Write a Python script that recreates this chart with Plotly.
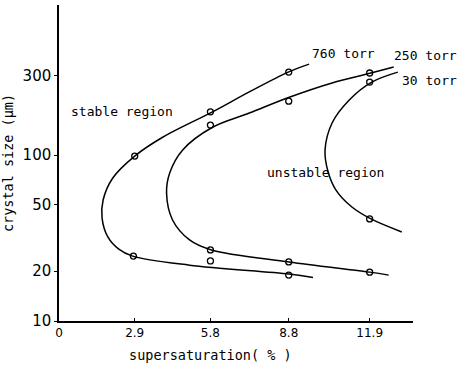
import math
import plotly.graph_objects as go

# Smooth boundary curves (supersaturation %, crystal size um), traced around each nose
curve_760_x = [9.58, 8.78, 7.29, 5.88, 3.97, 2.90, 2.06, 1.69, 1.65, 1.87, 2.29, 2.82, 5.0, 8.82, 9.73]
curve_760_y = [353, 316, 240, 182, 128, 98.6, 72.7, 53.6, 41.7, 32.1, 27.1, 24.6, 21.7, 19.2, 18.3]

curve_250_x = [12.82, 11.95, 10.46, 8.82, 7.29, 5.88, 4.73, 4.24, 4.12, 4.35, 5.0, 5.84, 8.82, 11.9, 12.63]
curve_250_y = [339, 312, 272, 223, 179, 147, 107, 78, 59, 40.6, 30.8, 26.8, 22.7, 19.7, 18.9]

curve_30_x = [12.98, 11.98, 11.11, 10.46, 10.19, 10.31, 10.61, 11.22, 11.95, 13.13]
curve_30_y = [316, 275, 214, 156, 107, 79, 61.5, 48.6, 41.2, 34.4]

# Measured points
pts_760_x = [2.9, 5.8, 8.8, 2.85, 5.8, 8.8]
pts_760_y = [98.6, 182, 316, 24.6, 23.0, 18.9]

pts_250_x = [5.8, 8.8, 11.9, 5.8, 8.8, 11.9]
pts_250_y = [151.6, 211, 312, 26.8, 22.7, 19.7]

pts_30_x = [11.9, 11.9]
pts_30_y = [275, 41.2]

x_ticks = [0, 2.9, 5.8, 8.8, 11.9]
x_tick_text = ["0", "2.9", "5.8", "8.8", "11.9"]
y_ticks = [10, 20, 50, 100, 300]
y_tick_text = ["10", "20", "50", "100", "300"]

SANS = "DejaVu Sans"
MONO = "DejaVu Sans Mono"

fig = go.Figure()
for cx, cy in [(curve_760_x, curve_760_y), (curve_250_x, curve_250_y), (curve_30_x, curve_30_y)]:
    fig.add_trace(go.Scatter(x=cx, y=cy, mode="lines",
                             line=dict(color="black", width=1.5, shape="spline", smoothing=1.0),
                             hoverinfo="skip", showlegend=False))
for px, py in [(pts_760_x, pts_760_y), (pts_250_x, pts_250_y), (pts_30_x, pts_30_y)]:
    fig.add_trace(go.Scatter(x=px, y=py, mode="markers",
                             marker=dict(symbol="circle-open", size=6, color="black",
                                         line=dict(width=1.3, color="black")),
                             showlegend=False))

# Region and pressure labels
for text, x, y in [("760 torr", 10.88, 411), ("stable region", 2.43, 182), ("unstable region", 10.19, 79)]:
    fig.add_annotation(x=x, y=math.log10(y), text=text, showarrow=False,
                       xanchor="center", yanchor="middle",
                       font=dict(family=MONO, size=13, color="black"))
for text, y in [("250 torr", 400), ("30 torr", 283)]:
    fig.add_annotation(x=1.13, xref="paper", y=math.log10(y), text=text, showarrow=False,
                       xanchor="right", yanchor="middle",
                       font=dict(family=MONO, size=13, color="black"))

# x-axis title, set left of the plot centre
fig.add_annotation(x=0.429, xref="paper", y=-0.108, yref="paper", text="supersaturation( % )",
                   showarrow=False, xanchor="center", yanchor="middle",
                   font=dict(family=MONO, size=13.5, color="black"))

fig.update_xaxes(range=[0, 13.56], tickvals=x_ticks, ticktext=x_tick_text,
                 showline=True, linecolor="black", linewidth=1.5, showgrid=False, zeroline=False,
                 ticks="inside", ticklen=3, tickcolor="black",
                 tickfont=dict(family=SANS, size=12, color="black"))
fig.update_yaxes(type="log", range=[1, 2.904], tickvals=y_ticks, ticktext=y_tick_text,
                 showline=True, linecolor="black", linewidth=1.5, showgrid=False, zeroline=False,
                 ticks="outside", ticklen=3, tickcolor="black",
                 tickfont=dict(family=SANS, size=15, color="black"),
                 title=dict(text="crystal size (μm)", font=dict(family=MONO, size=13.5, color="black"),
                            standoff=6))
fig.update_layout(width=460, height=365, margin=dict(l=59, r=47, t=5, b=44),
                  plot_bgcolor="white", paper_bgcolor="white")
fig.write_html("out.html")
